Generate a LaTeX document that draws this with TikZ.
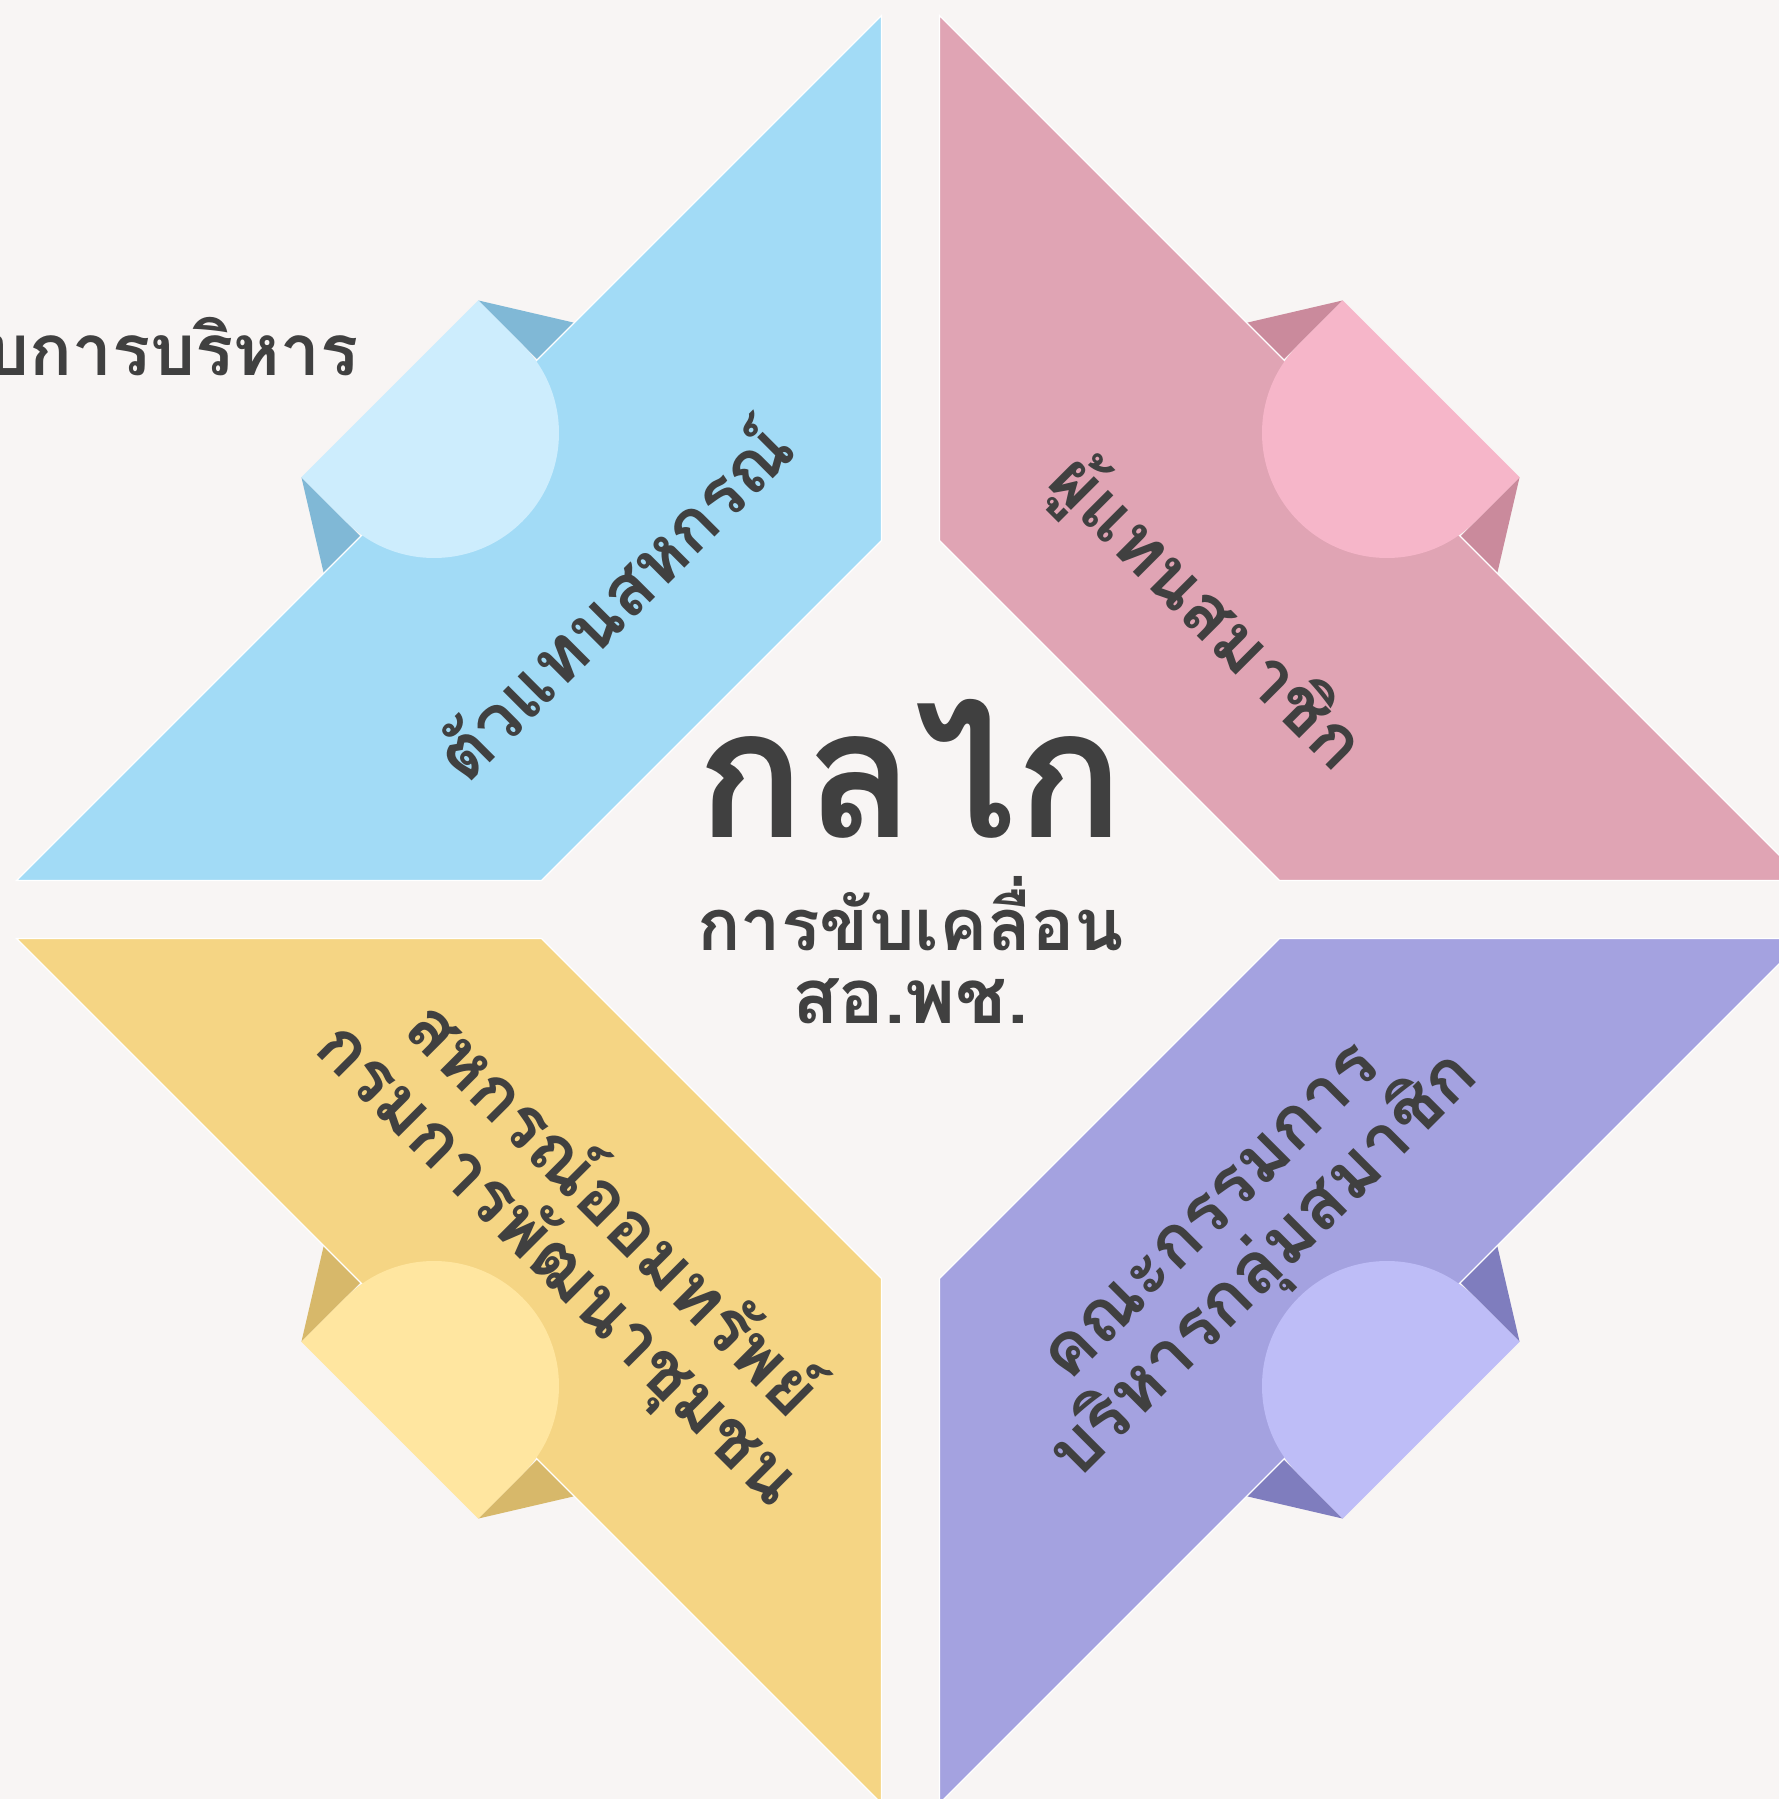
\documentclass[tikz,border=0pt]{standalone}
\usepackage{fontspec}
\newfontfamily\thaifont[Script=Thai]{Loma}

\definecolor{bgpaper}{HTML}{F8F5F4}
\definecolor{textgray}{HTML}{404040}
\definecolor{blueband}{HTML}{A2DBF6}
\definecolor{bluetab}{HTML}{CDEDFD}
\definecolor{bluedark}{HTML}{80B8D6}
\definecolor{pinkband}{HTML}{E0A4B4}
\definecolor{pinktab}{HTML}{F6B6C9}
\definecolor{pinkdark}{HTML}{CA8A9C}
\definecolor{yellowband}{HTML}{F5D584}
\definecolor{yellowtab}{HTML}{FFE6A0}
\definecolor{yellowdark}{HTML}{D7B86A}
\definecolor{purpleband}{HTML}{A4A2E0}
\definecolor{purpletab}{HTML}{BEBDF7}
\definecolor{purpledark}{HTML}{7F7DBE}

% one corner band with its folded tab (drawn for the top-left corner)
\newcommand{\cornerband}[3]{%
  \begin{scope}[shift={(-476.5,476.5)}, rotate=135]
    \fill[#3] (62.5,-125) -- (-21,-177) -- (-24,-125) -- cycle;
    \fill[#3] (62.5,125) -- (-21,177) -- (-24,125) -- cycle;
  \end{scope}
  \fill[#1, draw=white, line width=1.2pt] (-29,894) -- (-29,369) -- (-369,29) -- (-894,29) -- cycle;
  \begin{scope}[shift={(-476.5,476.5)}, rotate=135]
    \fill[#2] (0,-125) -- (62.5,-125) -- (62.5,125) -- (0,125)
      arc[start angle=90, end angle=270, radius=125] -- cycle;
  \end{scope}}

\begin{document}
\begin{tikzpicture}[x=1pt, y=1pt,
    bandlabel/.style={text=textgray, align=center, inner sep=0pt,
      font=\thaifont\bfseries\fontsize{72}{76}\selectfont}]
    \fill[bgpaper] (-910.5,-889.5) rectangle (868.5,909.5);
    \useasboundingbox (-910.5,-889.5) rectangle (868.5,909.5);
    \clip (-910.5,-889.5) rectangle (868.5,909.5);

    \cornerband{blueband}{bluetab}{bluedark}
    \begin{scope}[xscale=-1]
        \cornerband{pinkband}{pinktab}{pinkdark}
    \end{scope}
    \begin{scope}[yscale=-1]
        \cornerband{yellowband}{yellowtab}{yellowdark}
    \end{scope}
    \begin{scope}[xscale=-1, yscale=-1]
        \cornerband{purpleband}{purpletab}{purpledark}
    \end{scope}

    % labels on the bands
    \node[bandlabel, rotate=45] (coop) at (-300,312) {ตัวแทนสหกรณ์};
    \node[bandlabel, rotate=-45] (members) at (295,295) {ผู้แทนสมาชิก};
    \node[bandlabel, rotate=-45] (savings) at (-326,-328)
        {สหกรณ์ออมทรัพย์\\กรมการพัฒนาชุมชน};
    \node[bandlabel, rotate=45] (board) at (334,-336)
        {คณะกรรมการ\\บริหารกลุ่มสมาชิก};

    % centre
    \node[text=textgray, anchor=base, inner sep=0pt,
        font=\thaifont\bfseries\fontsize{180}{180}\selectfont] (title) at (0,71.5) {กลไก};
    \node[text=textgray, anchor=base, inner sep=0pt,
        font=\thaifont\bfseries\fontsize{72}{72}\selectfont] (drive) at (0,-40.5) {การขับเคลื่อน};
    \node[text=textgray, anchor=base, inner sep=0pt,
        font=\thaifont\bfseries\fontsize{76}{76}\selectfont] (office) at (0,-113.5) {สอ.พช.};

    \node[text=textgray, anchor=base east, inner sep=0pt,
        font=\thaifont\bfseries\fontsize{71}{71}\selectfont] (admin) at (-552,533.5) {บการบริหาร};
\end{tikzpicture}
\end{document}
